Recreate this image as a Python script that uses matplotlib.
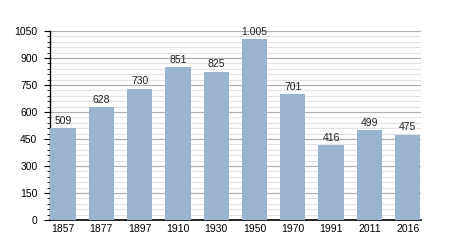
import matplotlib.pyplot as plt
from matplotlib.ticker import MultipleLocator

years = ['1857', '1877', '1897', '1910', '1930', '1950', '1970', '1991', '2011', '2016']
population = [509, 628, 730, 851, 825, 1005, 701, 416, 499, 475]
labels = ['509', '628', '730', '851', '825', '1.005', '701', '416', '499', '475']

plt.rcParams['font.family'] = ['Liberation Sans', 'DejaVu Sans']

fig = plt.figure(figsize=(4.5, 2.5), dpi=100)
ax = fig.add_axes([0.111, 0.12, 0.824, 0.756])

x = range(len(years))
bars = ax.bar(x, population, width=0.66, color='#9ab3cf', zorder=3)
for i, v in enumerate(population):
    ax.text(i, v + 12, labels[i], ha='center', va='bottom', fontsize=7.5, color='#222222')

ax.set_xlim(-0.34, len(years) - 0.66)
ax.set_ylim(0, 1050)
ax.set_xticks(list(x))
ax.set_xticklabels(years)
ax.yaxis.set_major_locator(MultipleLocator(150))
ax.yaxis.set_minor_locator(MultipleLocator(30))
ax.grid(axis='y', which='major', color='#b0b0b0', linewidth=0.9, zorder=0)
ax.grid(axis='y', which='minor', color='#e2e2e2', linewidth=0.8, zorder=0)

for s in ['top', 'right']:
    ax.spines[s].set_visible(False)
ax.spines['left'].set_linewidth(1)
ax.spines['bottom'].set_linewidth(1.2)
ax.tick_params(axis='x', length=0, labelsize=7.5, pad=3)
ax.tick_params(axis='y', which='major', length=4, labelsize=7.5, pad=5)
ax.tick_params(axis='y', which='minor', length=2)

fig.savefig('out.png', dpi=100)
